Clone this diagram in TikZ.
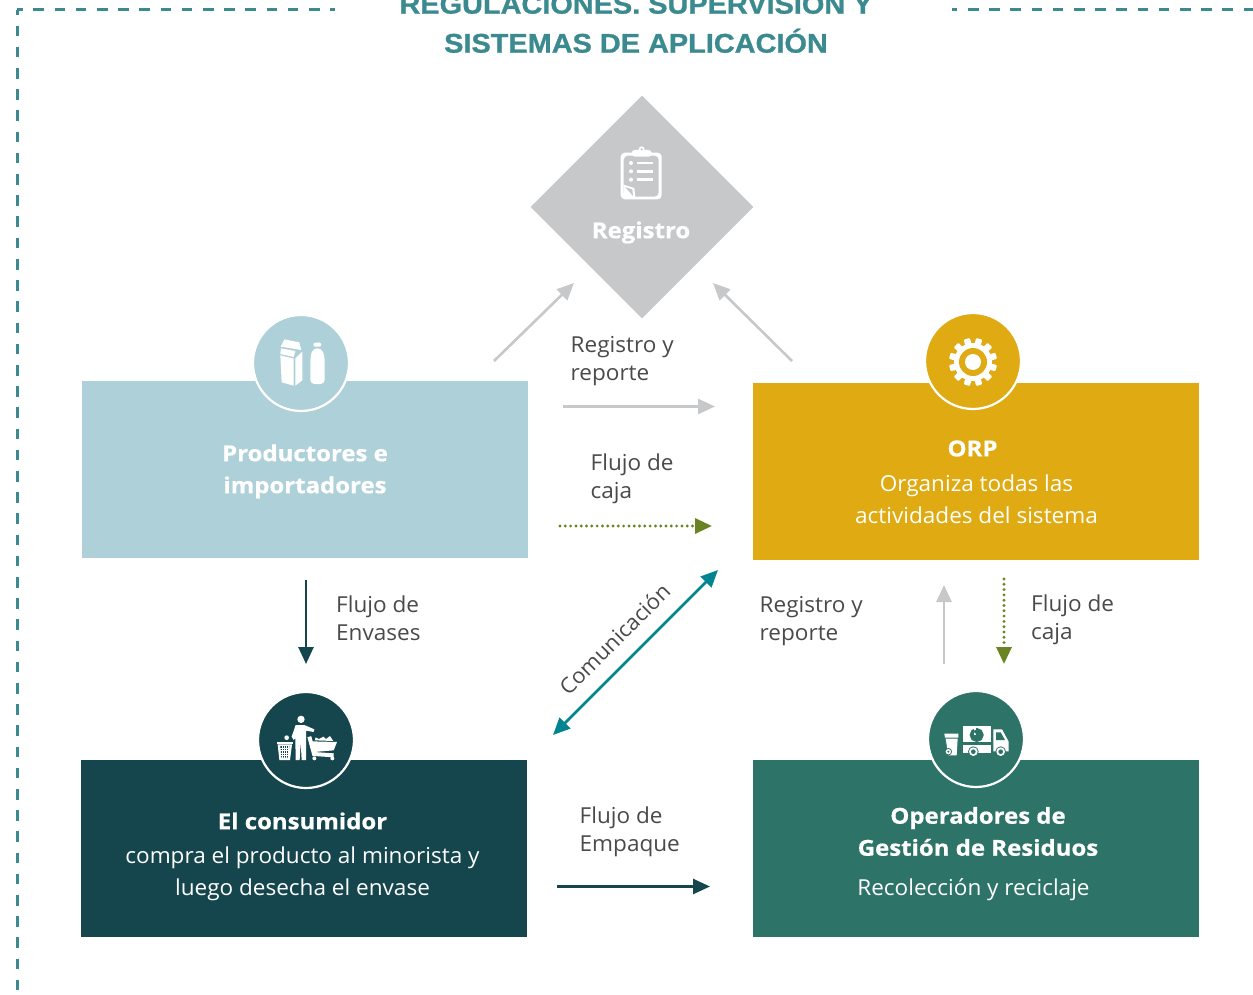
\documentclass[tikz,border=0pt]{standalone}
\usepackage{fontspec}
\setmainfont[FakeStretch=1.025,BoldFeatures={FakeStretch=1.09,FakeBold=0.6}]{Open Sans}
\newfontfamily\titlefont[FakeStretch=1.07,FakeBold=0.9]{Liberation Sans Bold}
\usetikzlibrary{arrows.meta,shapes.geometric}
\definecolor{cprod}{HTML}{AED0D9}
\definecolor{corp}{HTML}{DFAA12}
\definecolor{ccons}{HTML}{15454D}
\definecolor{coper}{HTML}{2D7367}
\definecolor{cgrey}{HTML}{C6C8CA}
\definecolor{cteal}{HTML}{3A8A90}
\definecolor{ccomm}{HTML}{00848F}
\definecolor{cgreen}{HTML}{6A8423}
\definecolor{ctext}{HTML}{4A4A4A}
\tikzset{
  box/.style={draw=none,minimum width=446pt,minimum height=177pt,inner sep=0pt,anchor=north west},
  badge/.style={circle,fill=#1,draw=white,line width=2.2pt,minimum size=96pt,inner sep=0pt},
  ttl/.style={font=\titlefont\fontsize{27}{39}\selectfont,text=cteal,align=center},
  boxtxt/.style={text=white,align=center,font=\fontsize{22}{32}\selectfont},
  lab/.style={text=ctext,align=left,anchor=north west,inner sep=0pt,font=\fontsize{22}{28}\selectfont},
  tip/.style={-{Triangle[length=17pt,width=15pt]}},
  gline/.style={tip,draw=cgrey,line width=2.6pt},
  gdot/.style={tip,draw=cgreen,line width=3.2pt,line cap=round,dash pattern=on 0pt off 5.3pt},
  nline/.style={tip,draw=ccons,line width=2.6pt},
  comm/.style={{Triangle[length=17pt,width=15pt]}-{Triangle[length=17pt,width=15pt]},draw=ccomm,line width=2.6pt},
  frame/.style={draw=cteal,line width=2.7pt,dash pattern=on 10.6pt off 10.6pt,dash phase=5.2pt},
  ico/.style={fill=white,draw=none},
  zoomed/.style={shift={#1},scale=1/3},
}
\begin{document}
\begin{tikzpicture}[x=1pt,y=-1pt]
\useasboundingbox (0,0) rectangle (1253,995);
\fill[white] (0,0) rectangle (1253,995);
% frame
\coordinate (fa) at (335,9.7); \coordinate (fb) at (17.3,9.7); \coordinate (fc) at (17.3,995);
\coordinate (fd) at (952,9.7); \coordinate (fe) at (1253,9.7);
\draw[frame] (fb) -- (fa);
\draw[frame] (fb) -- (fc);
\draw[frame] (fd) -- (fe);
\node[ttl] (title) at (636,21.3) {REGULACIONES. SUPERVISIÓN Y\\SISTEMAS DE APLICACIÓN};
% diamond
\node[diamond,aspect=1,fill=cgrey,minimum width=223pt,minimum height=223pt,inner sep=0pt] (reg) at (642,207) {};
\node[text=white,font=\bfseries\fontsize{22}{28}\selectfont] (regt) at (641,232.5) {Registro};
% clipboard
\begin{scope}[zoomed={(520,90)}]
  \fill[ico,even odd rule,rounded corners=4pt] (302,188) rectangle (425,328) (311,197) rectangle (416,320);
  \fill[ico,rounded corners=3pt] (335,180) rectangle (395,200);
  \fill[ico] (365,178) circle (9);
  \fill[cgrey] (365,178) circle (3.5);
  \fill[ico] (311,284) -- (343,294) -- (346,322) -- (311,322) -- cycle;
  \fill[cgrey] (316,292) -- (337,298) -- (339,318) -- cycle;
  \foreach \yy in {219,244,269}{
    \fill[ico] (333,\yy) circle (6);
    \fill[ico] (352,\yy-4) rectangle (400,\yy+4);
  }
\end{scope}
% productores
\node[box,fill=cprod] (prod) at (82,381) {};
\node[badge=cprod] (bprod) at (301,363) {};
\node[boxtxt,font=\bfseries\fontsize{22}{32}\selectfont] (tprod) at (305,471.5) {Productores e\\importadores};
\begin{scope}[zoomed={(240,305)}]
  \fill[ico] (133,103) -- (178,112) -- (184,135) -- (122,125) -- cycle;
  \fill[ico] (123,130) -- (166,138) -- (161,156) -- (121,147) -- cycle;
  \fill[ico] (121,151) -- (161,161) -- (161,242) -- (125,232) -- cycle;
  \fill[ico] (166,160) -- (187,140) -- (187,226) -- (166,242) -- cycle;
  \fill[ico,rounded corners=2pt] (220,113) rectangle (244,125);
  \fill[ico,rounded corners=4pt] (219,130) -- (245,130) -- (254,155) -- (254,237) -- (211,237) -- (211,155) -- cycle;
\end{scope}
% ORP
\node[box,fill=corp] (orp) at (753,383) {};
\node[badge=corp] (borp) at (973,361) {};
\node[boxtxt] (torp) at (976.5,482) {\textbf{ORP}\hspace*{8pt}\\[3pt]Organiza todas las\\actividades del sistema};
\begin{scope}[shift={(973,362)}]
  \fill[ico] (0,0) circle (19);
  \foreach \a in {15,45,...,345}{
    \fill[ico,rotate=\a,rounded corners=1pt] (-3.2,-18) rectangle (3.2,-24);
  }
  \fill[corp] (0,0) circle (14);
  \fill[ico] (0,0) circle (8);
\end{scope}
% consumidor
\node[box,fill=ccons] (cons) at (81,760) {};
\node[badge=ccons] (bcons) at (306,740) {};
\node[boxtxt] (tcons) at (302.5,856.5) {\textbf{El consumidor}\\[2pt]compra el producto al minorista y\\luego desecha el envase};
\begin{scope}[zoomed={(245,685)}]
  % person
  \fill[ico] (168,103) circle (11);
  \fill[ico] (152,120) -- (178,120) -- (208,133) -- (206,141) -- (183,137) -- (183,225) -- (170,225) -- (167,170) -- (164,225) -- (152,225) -- (151,160) -- (146,165) -- (140,155) -- cycle;
  % bin
  \fill[ico] (95,171) rectangle (143,178);
  \fill[ico] (98,178) -- (141,178) -- (135,225) -- (103,225) -- cycle;
  \fill[ccons] (106,183) -- (133,183) -- (129,218) -- (109,218) -- cycle;
  \foreach \gx in {111,117,123,129}{\fill[ico] (\gx,183) rectangle (\gx+2,218);}
  \foreach \gy in {189,196,203,210}{\fill[ico] (106,\gy) rectangle (133,\gy+2);}
  \fill[ico] (125,158) circle (7);
  % cart
  \fill[ico] (199,169) -- (276,171) -- (266,196) -- (208,201) -- cycle;
  \fill[ico] (209,166) -- (212,157) -- (222,162) -- (235,155) -- (243,162) -- (255,153) -- (265,168) -- cycle;
  \draw[white,line width=4pt] (193,155) -- (207,207) -- (266,211);
  \fill[ico] (208,220) circle (6) (262,220) circle (6);
\end{scope}
% operadores
\node[box,fill=coper] (oper) at (753,760) {};
\node[badge=coper] (boper) at (976,739) {};
\node[boxtxt] (toper) at (978,854) {\textbf{Operadores de}\\\textbf{Gestión de Residuos}\\[8pt]Recolección y reciclaje\hspace*{9pt}};
\begin{scope}[zoomed={(915,685)}]
  % bin
  \fill[ico] (88,146) -- (130,146) -- (130,158) -- (90,158) -- cycle;
  \fill[ico] (92,161) -- (128,161) -- (125,211) -- (100,211) -- cycle;
  \fill[coper] (100,200) circle (11);
  \fill[ico] (100,200) circle (8);
  \fill[coper] (100,200) circle (3.5);
  % box
  \fill[ico] (145,123) rectangle (227,171);
  \draw[coper,line width=7pt] (185,150) circle (10);
  \fill[ico] (176,128) -- (184,128) -- (184,150) -- (176,150) -- cycle;
  \fill[coper] (172,138) -- (192,132) -- (188,150) -- cycle;
  \fill[ico] (145,179) rectangle (228,204);
  % cab
  \fill[ico] (235,133) -- (261,133) -- (281,170) -- (281,199) -- (235,199) -- cycle;
  \fill[coper] (243,142) -- (257,142) -- (270,165) -- (243,165) -- cycle;
  % wheels
  \fill[coper] (175,200) circle (16) (257,200) circle (16);
  \fill[ico] (175,200) circle (13) (257,200) circle (13);
  \fill[coper] (175,200) circle (7) (257,200) circle (7);
\end{scope}
% arrows
\coordinate (a1s) at (494,361); \coordinate (a1e) at (574,283);
\coordinate (a2s) at (792,361); \coordinate (a2e) at (713,283);
\coordinate (a3s) at (563,406.5); \coordinate (a3e) at (715,406.5);
\coordinate (a4s) at (560,526); \coordinate (a4e) at (712,526);
\coordinate (a5s) at (306,580); \coordinate (a5e) at (306,664);
\coordinate (a6s) at (553,735); \coordinate (a6e) at (718,570);
\coordinate (a7s) at (944,664); \coordinate (a7e) at (944,585);
\coordinate (a8s) at (1004,579); \coordinate (a8e) at (1004,664);
\coordinate (a9s) at (557,886.5); \coordinate (a9e) at (710,886.5);
\draw[gline] (a1s) -- (a1e);
\draw[gline] (a2s) -- (a2e);
\draw[gline] (a3s) -- (a3e);
\draw[gdot] (a4s) -- (a4e);
\draw[nline] (a5s) -- (a5e);
\draw[comm] (a6s) -- (a6e);
\draw[gline] (a7s) -- (a7e);
\draw[gdot] (a8s) -- (a8e);
\draw[nline] (a9s) -- (a9e);
% labels
\node[lab] (l1) at (570.5,336.5) {Registro y\\reporte};
\node[lab] (l2) at (590.5,454) {Flujo de\\caja};
\node[lab] (l3) at (336,596) {Flujo de\\Envases};
\node[lab] (l4) at (759.5,596.5) {Registro y\\reporte};
\node[lab] (l5) at (1031,595) {Flujo de\\caja};
\node[lab] (l6) at (579.5,806.5) {Flujo de\\Empaque};
\node[text=ctext,rotate=45,inner sep=0pt,font=\fontsize{21.5}{28}\selectfont] (l7) at (614.5,639) {Comunicación};
\end{tikzpicture}
\end{document}
